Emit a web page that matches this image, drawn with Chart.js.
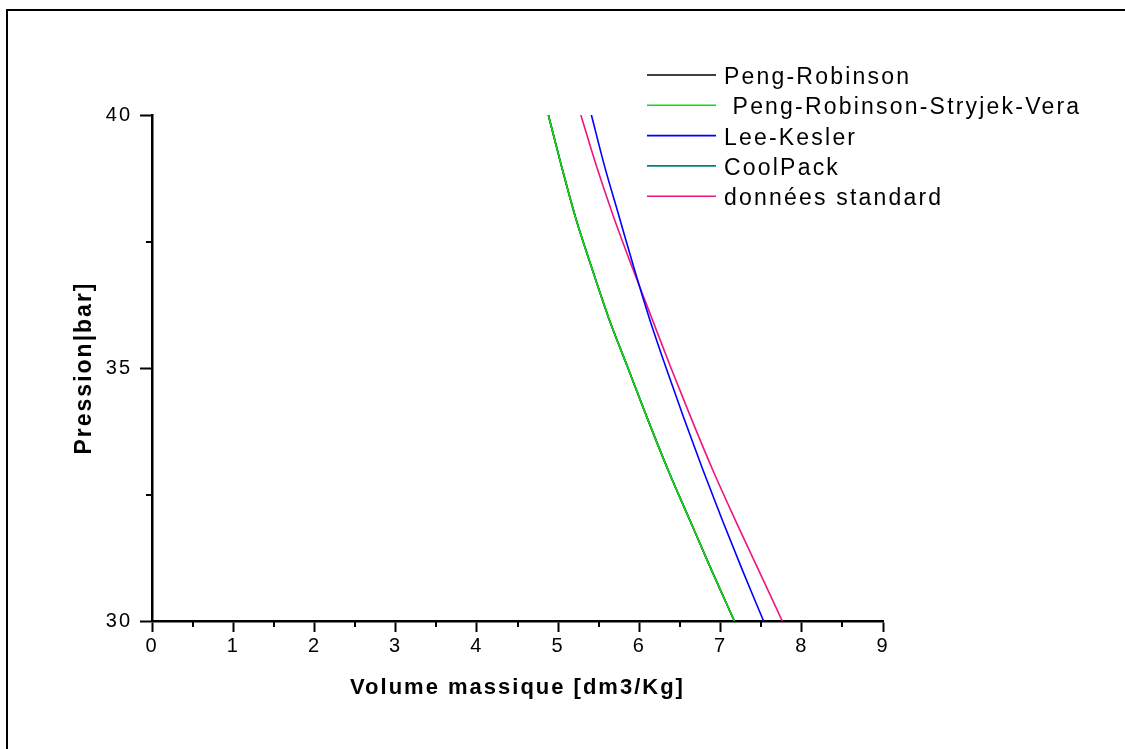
<!DOCTYPE html>
<html>
<head>
<meta charset="utf-8">
<script src="https://cdn.jsdelivr.net/npm/chart.js@4.4.1/dist/chart.umd.min.js"></script>
<style>
    body { margin: 0; background: #fff; }
    #wrap { width: 1125px; height: 749px; }
</style>
</head>
<body>
<div id="wrap"><canvas id="chart" width="1125" height="749"></canvas></div>
<script>
// pression (bar) et volume massique (dm3/kg)
const pressures = [40, 39, 38, 37, 36, 35, 34, 33, 32, 31, 30];
const pengRobinson = [4.88, 5.04, 5.21, 5.41, 5.62, 5.86, 6.10, 6.35, 6.62, 6.89, 7.17];
const prsv = [4.88, 5.04, 5.21, 5.41, 5.62, 5.86, 6.10, 6.35, 6.62, 6.89, 7.17];
const leeKesler = [5.41, 5.57, 5.75, 5.93, 6.12, 6.33, 6.55, 6.78, 7.02, 7.27, 7.53];
const coolPack = [4.88, 5.04, 5.21, 5.41, 5.62, 5.86, 6.10, 6.35, 6.62, 6.89, 7.17];
const standard = [5.28, 5.47, 5.68, 5.91, 6.15, 6.39, 6.64, 6.90, 7.18, 7.47, 7.76];

const xTicks = [0, 1, 2, 3, 4, 5, 6, 7, 8, 9];
const xMinor = [0.5, 1.5, 2.5, 3.5, 4.5, 5.5, 6.5, 7.5, 8.5];
const yTicks = [30, 35, 40];
const yMinor = [32.5, 37.5];

const labels = ["Peng-Robinson", " Peng-Robinson-Stryjek-Vera", "Lee-Kesler", "CoolPack", "données standard"];
const colors = ["#000000", "#11dd11", "#0000ff", "#008080", "#f0147f"];

function points(vol) {
    return pressures.map((p, i) => ({ x: vol[i], y: p }));
}

const series = [pengRobinson, prsv, leeKesler, coolPack, standard];
const drawOrder = [2, 0, 1, 3, 1];

const datasets = series.map((vol, i) => ({
    label: labels[i],
    data: points(vol),
    borderColor: colors[i],
    borderWidth: 1.6,
    pointRadius: 0,
    cubicInterpolationMode: "monotone",
    fill: false,
    order: drawOrder[i],
}));

const FONT = "'Liberation Sans', Arial, sans-serif";

const framePlugin = {
    id: "frame",
    beforeDraw(chart) {
        const ctx = chart.ctx;
        ctx.letterSpacing = "2px";
        ctx.save();
        ctx.strokeStyle = "#000";
        ctx.lineWidth = 2;
        ctx.beginPath();
        ctx.moveTo(7, 749);
        ctx.lineTo(7, 10);
        ctx.lineTo(1125, 10);
        ctx.stroke();
        ctx.restore();
    },
    afterDraw(chart) {
        const ctx = chart.ctx;
        const xs = chart.scales.x;
        const ys = chart.scales.y;
        ctx.save();
        ctx.strokeStyle = "#000";
        ctx.lineWidth = 2;
        ctx.beginPath();
        xMinor.forEach((v) => {
            const px = Math.round(xs.getPixelForValue(v));
            ctx.moveTo(px, xs.top);
            ctx.lineTo(px, xs.top + 6);
        });
        yMinor.forEach((v) => {
            const py = Math.round(ys.getPixelForValue(v));
            ctx.moveTo(ys.right - 6, py);
            ctx.lineTo(ys.right, py);
        });
        ctx.stroke();

        // légende
        ctx.font = "23px " + FONT;
        ctx.letterSpacing = "2.2px";
        ctx.textBaseline = "alphabetic";
        ctx.fillStyle = "#000";
        chart.data.datasets.forEach((ds, i) => {
            const y = 75 + i * 30.3;
            ctx.strokeStyle = ds.borderColor;
            ctx.lineWidth = 1.6;
            ctx.beginPath();
            ctx.moveTo(647, y);
            ctx.lineTo(716, y);
            ctx.stroke();
            ctx.fillText(ds.label, 724, y + 9);
        });
        ctx.restore();
    },
};

new Chart(document.getElementById("chart"), {
    type: "line",
    data: { datasets },
    options: {
        responsive: false,
        animation: false,
        layout: { padding: { left: 0, top: 115, right: 242, bottom: 0 } },
        plugins: {
            legend: { display: false },
            tooltip: { enabled: false },
        },
        scales: {
            x: {
                type: "linear",
                min: 0,
                max: 9,
                afterBuildTicks: (scale) => {
                    scale.ticks = xTicks.map((v) => ({ value: v }));
                },
                afterFit: (scale) => {
                    scale.height = 128;
                },
                grid: {
                    drawOnChartArea: false,
                    tickLength: 11,
                    tickWidth: 2,
                    tickColor: "#000",
                },
                border: { display: true, color: "#000", width: 2.5 },
                ticks: {
                    color: "#000",
                    padding: 2,
                    maxRotation: 0,
                    font: { family: FONT, size: 20 },
                },
                title: {
                    display: true,
                    text: "Volume massique [dm3/Kg]",
                    color: "#000",
                    font: { family: FONT, size: 22, weight: "bold" },
                    padding: { top: 0, bottom: 48 },
                },
            },
            y: {
                type: "linear",
                min: 30,
                max: 40,
                afterBuildTicks: (scale) => {
                    scale.ticks = yTicks.map((v) => ({ value: v }));
                },
                afterFit: (scale) => {
                    scale.width = 152;
                },
                grid: {
                    drawOnChartArea: false,
                    tickLength: 12,
                    tickWidth: 2,
                    tickColor: "#000",
                },
                border: { display: true, color: "#000", width: 2.5 },
                ticks: {
                    color: "#000",
                    padding: 8,
                    font: { family: FONT, size: 20 },
                },
                title: {
                    display: true,
                    text: "Pression|bar]",
                    color: "#000",
                    font: { family: FONT, size: 23, weight: "bold" },
                    padding: { top: 71, bottom: 0 },
                },
            },
        },
    },
    plugins: [framePlugin],
});
</script>
</body>
</html>
